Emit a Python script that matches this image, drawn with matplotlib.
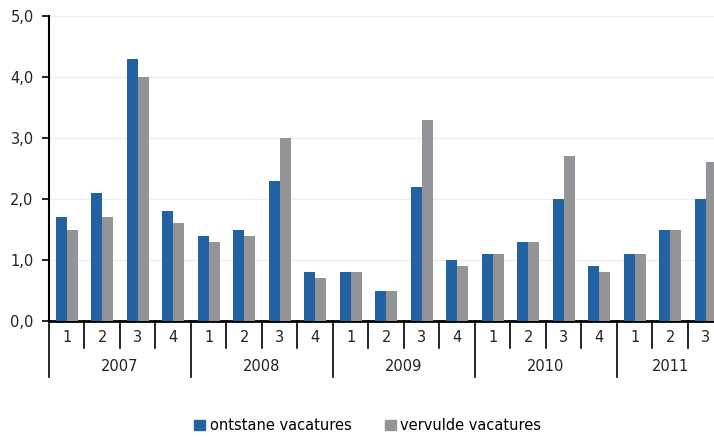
import numpy as np
import matplotlib.pyplot as plt
from matplotlib.patches import Patch

# ---------------------------------------------------------------------------
# Data
# ---------------------------------------------------------------------------
years = ['2007', '2008', '2009', '2010', '2011']
quarters = ['1', '2', '3', '4',
            '1', '2', '3', '4',
            '1', '2', '3', '4',
            '1', '2', '3', '4',
            '1', '2', '3']
quarters_per_year = [4, 4, 4, 4, 3]

ontstane = [1.7, 2.1, 4.3, 1.8,
            1.4, 1.5, 2.3, 0.8,
            0.8, 0.5, 2.2, 1.0,
            1.1, 1.3, 2.0, 0.9,
            1.1, 1.5, 2.0]
vervulde = [1.5, 1.7, 4.0, 1.6,
            1.3, 1.4, 3.0, 0.7,
            0.8, 0.5, 3.3, 0.9,
            1.1, 1.3, 2.7, 0.8,
            1.1, 1.5, 2.6]

BLUE = '#2261a2'
GREY = '#939498'

plt.rcParams['font.family'] = ['DejaVu Sans']
plt.rcParams['font.size'] = 10.5

fig = plt.figure(figsize=(7.14, 4.41), dpi=100)
# the last quarter is cut off by the right edge, as in the original
ax = fig.add_axes([0.0686, 0.2721, 0.9447, 0.6916])

x = np.arange(len(quarters))
w = 0.31
ax.bar(x - w / 2, ontstane, width=w, color=BLUE, zorder=3)
ax.bar(x + w / 2, vervulde, width=w, color=GREY, zorder=3)

ax.set_xlim(-0.5, len(quarters) - 0.5)
ax.set_ylim(0, 5)
ax.set_yticks(np.arange(0, 5.01, 1))
ax.set_yticklabels([f'{v:.1f}'.replace('.', ',') for v in np.arange(0, 5.01, 1)],
                   color='#222222')
ax.yaxis.grid(True, color='#eeeeee', lw=1, zorder=0)
ax.tick_params(axis='y', direction='out', length=5, width=1.2, pad=6)
ax.tick_params(axis='x', length=0, labelbottom=False)

for side in ('top', 'right'):
    ax.spines[side].set_visible(False)
ax.spines['left'].set_linewidth(1.5)
ax.spines['bottom'].set_linewidth(2)

# ---- category axis: quarter labels, year labels and dividers -------------
trans = ax.get_xaxis_transform()
q_drop = 0.089
y_drop = 0.184
year_starts = np.cumsum([0] + quarters_per_year)
for i, q in enumerate(quarters):
    ax.text(x[i], -0.055, q, transform=trans, ha='center', va='center',
            color='#222222')
for b in range(len(quarters) + 1):
    drop = y_drop if b in year_starts else q_drop
    ax.plot([b - 0.5, b - 0.5], [0, -drop], transform=trans, color='black',
            lw=1.2, clip_on=False)
for k, yr in enumerate(years):
    mid = (year_starts[k] + year_starts[k + 1] - 1) / 2
    ax.text(mid, -0.148, yr, transform=trans, ha='center', va='center',
            color='#222222')

# ---- legend ---------------------------------------------------------------
handles = [Patch(color=BLUE, label='ontstane vacatures'),
           Patch(color=GREY, label='vervulde vacatures')]
fig.legend(handles=handles, loc='lower center', bbox_to_anchor=(0.515, -0.012),
           ncol=2, frameon=False, handlelength=0.75, handleheight=0.75,
           handletextpad=0.3, columnspacing=2.3)

fig.savefig('out.png', dpi=100)
